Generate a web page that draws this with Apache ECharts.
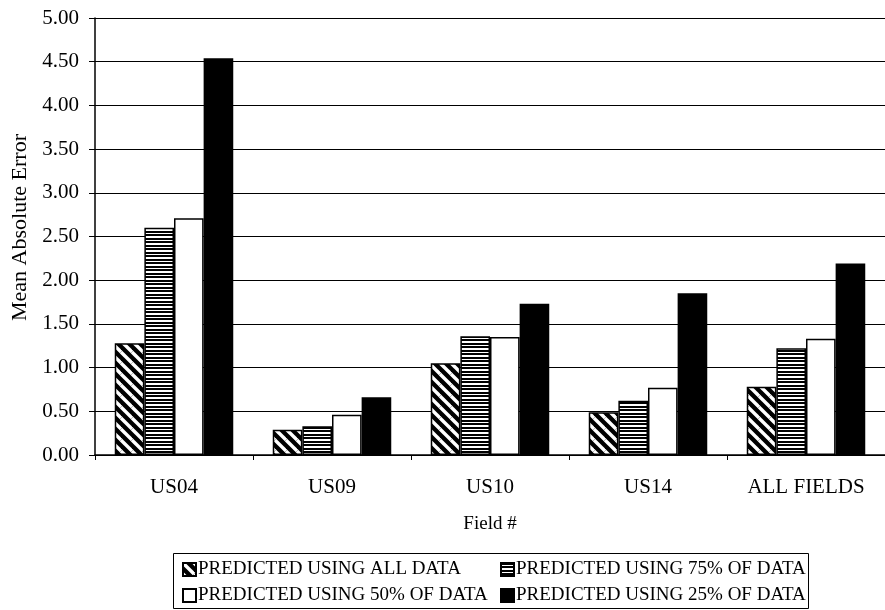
<!DOCTYPE html>
<html>
<head>
<meta charset="utf-8">
<title>Mean Absolute Error by Field</title>
<script src="https://cdn.jsdelivr.net/npm/echarts@6/dist/echarts.min.js"></script>
<style>
  html, body { margin: 0; padding: 0; background: #fff; }
  #chart { width: 885px; height: 610px; }
</style>
</head>
<body>
<div id="chart"></div>
<script>
// Field categories along the x axis
const categories = ['US04', 'US09', 'US10', 'US14', 'ALL FIELDS'];

// Mean absolute error for each prediction scenario
const seriesNames = [
  'PREDICTED USING ALL DATA',
  'PREDICTED USING 75% OF DATA',
  'PREDICTED USING 50% OF DATA',
  'PREDICTED USING 25% OF DATA'
];
const allData = [1.28, 0.29, 1.05, 0.49, 0.78];
const data75 = [2.60, 0.33, 1.36, 0.62, 1.22];
const data50 = [2.71, 0.46, 1.35, 0.77, 1.33];
const data25 = [4.54, 0.66, 1.73, 1.85, 2.19];

// Y axis range and step
const yMin = 0;
const yMax = 5;
const yStep = 0.5;

const FONT = '"Liberation Serif", "Times New Roman", serif';

// Black diagonal hatch with white "\" stripes
function diagonalPattern() {
  const p = 11;
  const c = document.createElement('canvas');
  c.width = p; c.height = p;
  const g = c.getContext('2d');
  g.fillStyle = '#000';
  g.fillRect(0, 0, p, p);
  g.strokeStyle = '#fff';
  g.lineWidth = 3.4;
  [[-p, 0], [0, 0], [p, 0], [0, -p], [0, p]].forEach(function (o) {
    g.beginPath();
    g.moveTo(o[0], o[1]);
    g.lineTo(o[0] + p, o[1] + p);
    g.stroke();
  });
  return c;
}

// Dense horizontal black lines
function horizontalPattern() {
  const c = document.createElement('canvas');
  c.width = 4; c.height = 7;
  const g = c.getContext('2d');
  g.fillStyle = '#fff';
  g.fillRect(0, 0, 4, 7);
  g.fillStyle = '#000';
  g.fillRect(0, 0, 4, 2);
  g.fillRect(0, 3, 4, 2);
  return c;
}

const fills = [
  { image: diagonalPattern(), repeat: 'repeat' },
  { image: horizontalPattern(), repeat: 'repeat' },
  '#ffffff',
  '#000000'
];
const seriesData = [allData, data75, data50, data25];

const chart = echarts.init(document.getElementById('chart'), null, { renderer: 'canvas' });

// One legend per entry so the two columns line up
const legendSlots = [
  { left: 182, top: 560 },
  { left: 500, top: 560 },
  { left: 182, top: 586 },
  { left: 500, top: 586 }
];

const option = {
  backgroundColor: '#fff',
  animation: false,
  grid: { left: 95, right: -4, top: 18, bottom: 155 },
  legend: legendSlots.map(function (s, i) {
    return {
      data: [seriesNames[i]],
      left: s.left,
      top: s.top,
      padding: 0,
      itemWidth: 13,
      itemHeight: 13,
      itemGap: 0,
      icon: 'rect',
      selectedMode: false,
      textStyle: { fontFamily: FONT, fontSize: 19, color: '#000', padding: [0, 0, 0, -3] }
    };
  }),
  graphic: [{
    type: 'rect',
    shape: { x: 173.5, y: 553.5, width: 635, height: 55 },
    style: { fill: 'none', stroke: '#000', lineWidth: 1 },
    silent: true
  }],
  xAxis: {
    type: 'category',
    data: categories,
    name: 'Field #',
    nameLocation: 'middle',
    nameGap: 60,
    nameTextStyle: { fontFamily: FONT, fontSize: 19, color: '#000' },
    axisLine: { lineStyle: { color: '#000', width: 1.5 } },
    axisTick: { show: true, alignWithLabel: false, length: 5, lineStyle: { color: '#000' } },
    axisLabel: { fontFamily: FONT, fontSize: 21, color: '#000', margin: 22 },
    splitLine: { show: false }
  },
  yAxis: {
    type: 'value',
    min: yMin,
    max: yMax,
    interval: yStep,
    name: 'Mean Absolute Error',
    nameLocation: 'middle',
    nameGap: 63,
    nameTextStyle: { fontFamily: FONT, fontSize: 22, color: '#000', padding: [0, 0, 0, 18] },
    axisLine: { show: true, lineStyle: { color: '#000', width: 1.5 } },
    axisTick: { show: true, length: 6, lineStyle: { color: '#000' } },
    axisLabel: {
      fontFamily: FONT, fontSize: 21, color: '#000', margin: 16,
      formatter: function (v) { return v.toFixed(2); }
    },
    splitLine: { show: true, lineStyle: { color: '#000', width: 1 } }
  },
  series: seriesNames.map(function (name, i) {
    return {
      name: name,
      type: 'bar',
      data: seriesData[i],
      barGap: '0%',
      barCategoryGap: '25%',
      itemStyle: { color: fills[i], borderColor: '#000', borderWidth: 1.5 },
      emphasis: { disabled: true }
    };
  })
};

chart.setOption(option);
</script>
</body>
</html>
